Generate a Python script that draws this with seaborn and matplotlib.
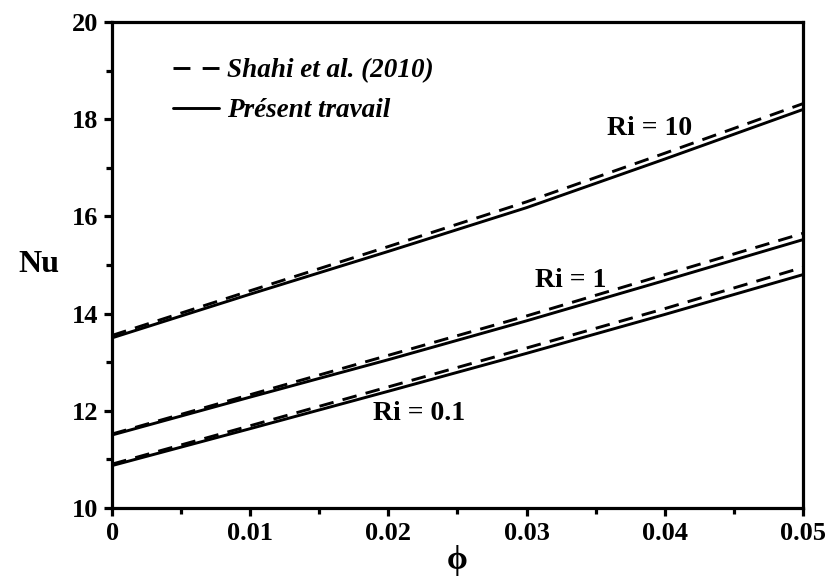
import numpy as np
import pandas as pd
import matplotlib
matplotlib.use("Agg")
import matplotlib.pyplot as plt
from matplotlib.lines import Line2D
import seaborn as sns

# Volume fraction of nanoparticles
phi = [0.0, 0.01, 0.02, 0.03, 0.04, 0.05]

# Average Nusselt number, present work
nu_present_ri10 = [13.50, 14.40, 15.28, 16.18, 17.18, 18.20]
nu_present_ri1 = [11.50, 12.28, 13.05, 13.85, 14.68, 15.52]
nu_present_ri01 = [10.87, 11.63, 12.40, 13.18, 13.98, 14.80]

# Average Nusselt number, Shahi et al. (2010)
nu_shahi_ri10 = [13.55, 14.47, 15.38, 16.30, 17.30, 18.32]
nu_shahi_ri1 = [11.52, 12.33, 13.14, 13.95, 14.80, 15.65]
nu_shahi_ri01 = [10.90, 11.69, 12.49, 13.29, 14.10, 14.95]

ri_labels = ["Ri = 10", "Ri = 1", "Ri = 0.1"]
source_labels = ["Shahi et al. (2010)", "Présent travail"]

rows = []
for ri, vals in zip(ri_labels, [nu_shahi_ri10, nu_shahi_ri1, nu_shahi_ri01]):
    for p, v in zip(phi, vals):
        rows.append({"phi": p, "Nu": v, "Ri": ri, "source": source_labels[0]})
for ri, vals in zip(ri_labels, [nu_present_ri10, nu_present_ri1, nu_present_ri01]):
    for p, v in zip(phi, vals):
        rows.append({"phi": p, "Nu": v, "Ri": ri, "source": source_labels[1]})
df = pd.DataFrame(rows)

sns.set_theme(style="ticks")
plt.rcParams["font.family"] = ["Liberation Serif", "DejaVu Serif"]
plt.rcParams["font.weight"] = "bold"
plt.rcParams["text.color"] = "black"
plt.rcParams["axes.labelcolor"] = "black"
plt.rcParams["xtick.color"] = "black"
plt.rcParams["ytick.color"] = "black"

fig = plt.figure(figsize=(8.31, 5.83), dpi=100)
ax = fig.add_axes([0.135, 0.129, 0.831, 0.833])

lw = 2.1
dash = (5.0, 3.2)
for src, ls in zip(source_labels, [(0, dash), "-"]):
    for ri in ri_labels:
        sub = df[(df["source"] == src) & (df["Ri"] == ri)]
        sns.lineplot(data=sub, x="phi", y="Nu", ax=ax, color="black",
                     linewidth=lw, linestyle=ls, legend=False)

ax.set_xlim(0, 0.05)
ax.set_ylim(10, 20)
ax.set_xticks([0, 0.01, 0.02, 0.03, 0.04, 0.05])
ax.set_xticklabels(["0", "0.01", "0.02", "0.03", "0.04", "0.05"])
ax.set_xticks(np.arange(0.005, 0.05, 0.01), minor=True)
ax.set_yticks([10, 12, 14, 16, 18, 20])
ax.set_yticks([11, 13, 15, 17, 19], minor=True)

for s in ax.spines.values():
    s.set_linewidth(2.3)
    s.set_color("black")
ax.tick_params(which="major", direction="out", length=6, width=2.3,
               labelsize=19, colors="black", pad=4)
ax.tick_params(which="minor", direction="out", length=4, width=2.3)
for lab in ax.get_xticklabels() + ax.get_yticklabels():
    lab.set_fontweight("bold")
    lab.set_color("black")

ax.set_xlabel("ϕ", fontsize=24, fontweight="bold", labelpad=0, color="black")
ax.set_ylabel("Nu", fontsize=23, fontweight="bold", rotation=0, labelpad=24,
              va="center", color="black")

ax.text(0.0389, 17.82, ri_labels[0], fontsize=20, fontweight="bold",
        ha="center", va="center", color="black")
ax.text(0.0332, 14.69, ri_labels[1], fontsize=20, fontweight="bold",
        ha="center", va="center", color="black")
ax.text(0.0222, 11.95, ri_labels[2], fontsize=20, fontweight="bold",
        ha="center", va="center", color="black")

# Legend keys: two long dashes for the reference data, solid for this work
handles = [Line2D([], [], color="black", linewidth=lw,
                  linestyle=(0, (5.8, 4.2))),
           Line2D([], [], color="black", linewidth=lw, linestyle="-")]
leg = ax.legend(handles, source_labels, loc="upper left",
                bbox_to_anchor=(0.06, 0.965), frameon=False, handlelength=1.7,
                handletextpad=0.3, labelspacing=0.55, borderpad=0.2,
                prop={"family": "Liberation Serif", "weight": "bold",
                      "style": "italic", "size": 19.5})
for t in leg.get_texts():
    t.set_color("black")

fig.savefig("out.png", dpi=100)
